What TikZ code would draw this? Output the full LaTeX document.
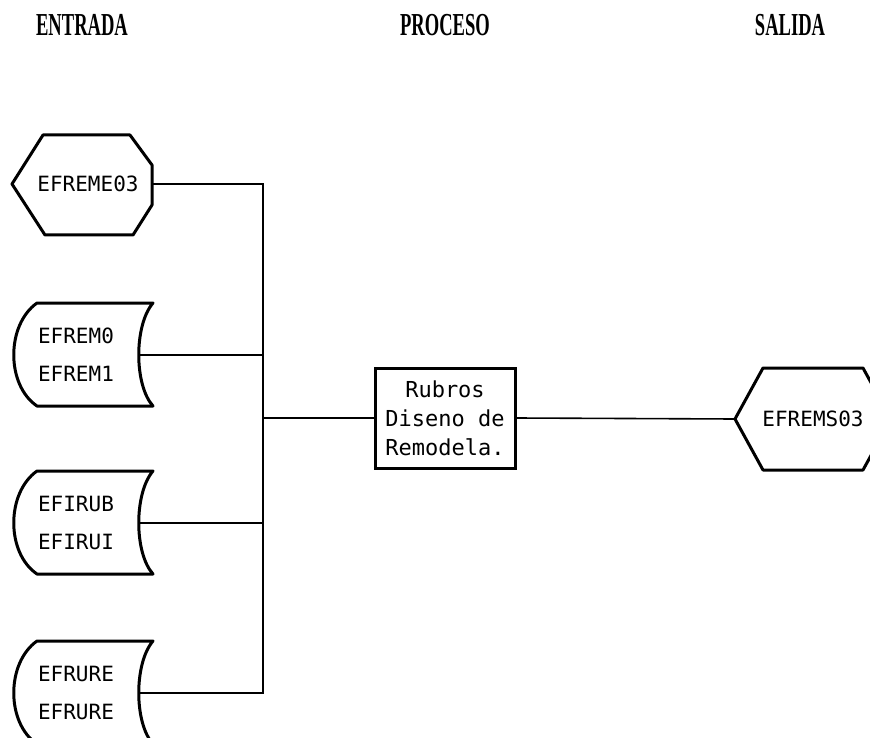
\documentclass[tikz,border=0pt]{standalone}
\usepackage{fontspec}
\newfontfamily\headfont[FakeStretch=0.58]{Liberation Serif}
\newfontfamily\dotfont{DejaVu Sans Mono}

\begin{document}
\begin{tikzpicture}[x=1pt, y=-1pt,
    outline/.style={line width=3pt, line join=round},
    wire/.style={line width=1.6pt},
    label/.style={font=\dotfont\fontsize{21}{38}\selectfont, align=center, inner sep=0pt},
    title/.style={font=\headfont\bfseries\fontsize{32}{32}\selectfont}]
    \useasboundingbox (0,0) rectangle (870,738);
    \clip (0,0) rectangle (870,738);

    \node[title] (entrada) at (82,25) {ENTRADA};
    \node[title] (proceso) at (445,25) {PROCESO};
    \node[title] (salida) at (790,25) {SALIDA};

    \draw[outline] (12,184) -- (43,135) -- (130,135) -- (152,165) -- (152,205) -- (133,235) -- (45,235) -- cycle;
    \node[label, minimum width=130pt, minimum height=100pt] (efreme) at (88,184) {EFREME03};

    \foreach \n/\y/\a/\b in {efrem/355/EFREM0/EFREM1, efiru/523/EFIRUB/EFIRUI, efrure/693/EFRURE/EFRURE} {
        \draw[outline, shift={(0,\y)}] (37,-52) -- (153,-52) .. controls (134,-30) and (134,30) .. (153,51) -- (37,51) .. controls (6,30) and (6,-30) .. (37,-52) -- cycle;
        \node[label, minimum width=124pt, minimum height=100pt] (\n) at (76,\y) {\a\\\b};
    }

    \node[label, draw, line width=3pt, minimum width=140pt, minimum height=100pt, font=\dotfont\fontsize{22}{29}\selectfont] (rubros) at (445,418) {Rubros\\Diseno de\\Remodela.};

    \draw[outline] (735,419) -- (763,368) -- (863,368) -- (891,419) -- (863,470) -- (763,470) -- cycle;
    \node[label, minimum width=156pt] (efrems) at (813,419) {EFREMS03};

    \coordinate (bus) at (263,418);
    \draw[wire] (efreme.east) -| (bus) |- (efrure.east);
    \draw[wire] (efrem.east) -- (efrem.east -| bus);
    \draw[wire] (efiru.east) -- (efiru.east -| bus);
    \draw[wire] (bus) -- (rubros.west);
    \draw[wire] (rubros.east) -- (efrems.west);
\end{tikzpicture}
\end{document}
